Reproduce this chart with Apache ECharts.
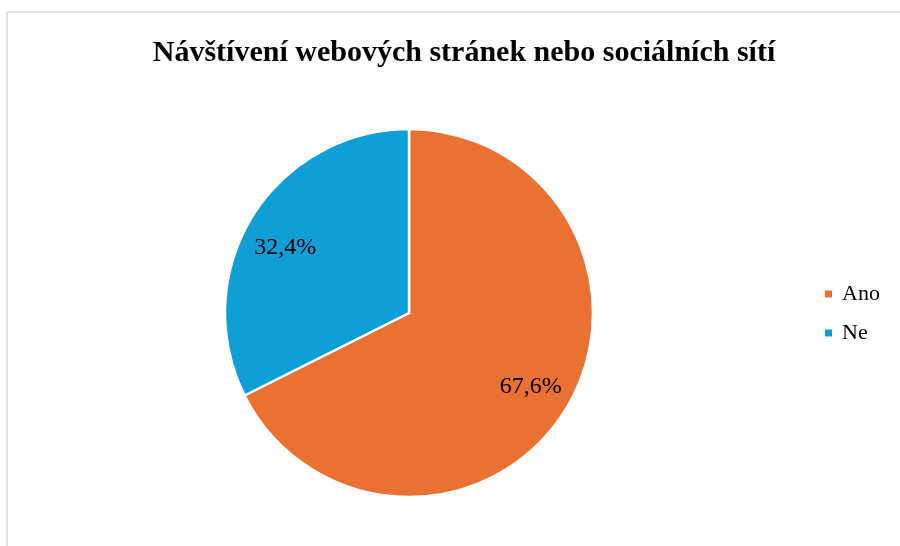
<!DOCTYPE html>
<html>
<head>
<meta charset="utf-8">
<script src="https://cdn.jsdelivr.net/npm/echarts@6/dist/echarts.min.js"></script>
<style>
  html, body { margin: 0; padding: 0; background: #fff; }
  #chart { width: 900px; height: 546px; }
</style>
</head>
<body>
<div id="chart"></div>
<script>
// Survey answers and their shares (%)
const categories = ['Ano', 'Ne'];
const shares = [67.6, 32.4];
const colors = ['#E97132', '#0F9ED5'];
// fine placement of each value label
const labelOffsets = [[-3, -3], [1, 12]];

const titleText = 'Návštívení webových stránek nebo sociálních sítí';
const serif = '"Liberation Serif", "Times New Roman", serif';

const chart = echarts.init(document.getElementById('chart'), null, { renderer: 'canvas' });

const cx = 409, cy = 313, r = 184;

chart.setOption({
  animation: false,
  backgroundColor: '#fff',
  title: {
    text: titleText,
    left: 459,
    textAlign: 'center',
    top: 33,
    textStyle: { fontFamily: serif, fontWeight: 'bold', fontSize: 30, color: '#000' }
  },
  legend: {
    orient: 'vertical',
    left: 823,
    top: 283,
    padding: 0,
    icon: 'rect',
    itemWidth: 9,
    itemHeight: 9,
    itemGap: 17,
    data: categories,
    textStyle: { fontFamily: serif, fontSize: 22, lineHeight: 22, color: '#000', padding: [0, 0, 0, 4] }
  },
  graphic: [
    { type: 'line', shape: { x1: 7, y1: 12, x2: 900, y2: 12 }, style: { stroke: '#d9d9d9', lineWidth: 1.5 } },
    { type: 'line', shape: { x1: 7, y1: 12, x2: 7, y2: 546 }, style: { stroke: '#d9d9d9', lineWidth: 1.5 } }
  ],
  series: [
    {
      // slices
      type: 'pie',
      center: [cx, cy],
      radius: [0, r],
      startAngle: 90,
      clockwise: true,
      label: { show: false },
      labelLine: { show: false },
      itemStyle: { borderColor: '#fff', borderWidth: 2.5 },
      data: categories.map((name, i) => ({
        name,
        value: shares[i],
        itemStyle: { color: colors[i] }
      }))
    },
    {
      // value labels, placed further out along each slice
      type: 'pie',
      center: [cx, cy],
      radius: [r * 0.56, r],
      startAngle: 90,
      clockwise: true,
      silent: true,
      itemStyle: { color: 'rgba(0,0,0,0)' },
      label: {
        show: true,
        position: 'inside',
        fontFamily: serif,
        fontSize: 24,
        color: '#000',
        formatter: p => p.value.toFixed(1).replace('.', ',') + '%'
      },
      labelLine: { show: false },
      data: categories.map((name, i) => ({
        name,
        value: shares[i],
        label: { offset: labelOffsets[i] }
      }))
    }
  ]
});
</script>
</body>
</html>
